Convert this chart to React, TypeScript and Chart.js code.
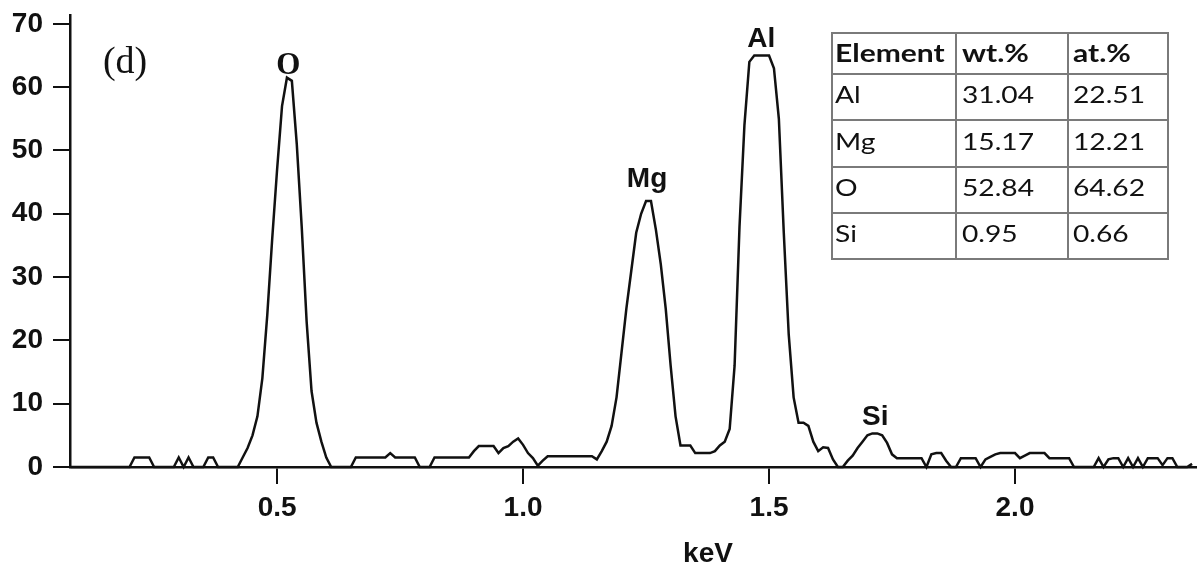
import React, { useEffect, useRef } from "react";
import Chart from "chart.js/auto";

// Channel energies (keV)
const energyKeV = [
  0.08, 0.09,
  0.10, 0.11, 0.12, 0.13, 0.14, 0.15, 0.16, 0.17, 0.18, 0.19,
  0.20, 0.21, 0.22, 0.23, 0.24, 0.25, 0.26, 0.27, 0.28, 0.29,
  0.30, 0.31, 0.32, 0.33, 0.34, 0.35, 0.36, 0.37, 0.38, 0.39,
  0.40, 0.41, 0.42, 0.43, 0.44, 0.45, 0.46, 0.47, 0.48, 0.49,
  0.50, 0.51, 0.52, 0.53, 0.54, 0.55, 0.56, 0.57, 0.58, 0.59,
  0.60, 0.61, 0.62, 0.63, 0.64, 0.65, 0.66, 0.67, 0.68, 0.69,
  0.70, 0.71, 0.72, 0.73, 0.74, 0.75, 0.76, 0.77, 0.78, 0.79,
  0.80, 0.81, 0.82, 0.83, 0.84, 0.85, 0.86, 0.87, 0.88, 0.89,
  0.90, 0.91, 0.92, 0.93, 0.94, 0.95, 0.96, 0.97, 0.98, 0.99,
  1.00, 1.01, 1.02, 1.03, 1.04, 1.05, 1.06, 1.07, 1.08, 1.09,
  1.10, 1.11, 1.12, 1.13, 1.14, 1.15, 1.16, 1.17, 1.18, 1.19,
  1.20, 1.21, 1.22, 1.23, 1.24, 1.25, 1.26, 1.27, 1.28, 1.29,
  1.30, 1.31, 1.32, 1.33, 1.34, 1.35, 1.36, 1.37, 1.38, 1.39,
  1.40, 1.41, 1.42, 1.43, 1.44, 1.45, 1.46, 1.47, 1.48, 1.49,
  1.50, 1.51, 1.52, 1.53, 1.54, 1.55, 1.56, 1.57, 1.58, 1.59,
  1.60, 1.61, 1.62, 1.63, 1.64, 1.65, 1.66, 1.67, 1.68, 1.69,
  1.70, 1.71, 1.72, 1.73, 1.74, 1.75, 1.76, 1.77, 1.78, 1.79,
  1.80, 1.81, 1.82, 1.83, 1.84, 1.85, 1.86, 1.87, 1.88, 1.89,
  1.90, 1.91, 1.92, 1.93, 1.94, 1.95, 1.96, 1.97, 1.98, 1.99,
  2.00, 2.01, 2.02, 2.03, 2.04, 2.05, 2.06, 2.07, 2.08, 2.09,
  2.10, 2.11, 2.12, 2.13, 2.14, 2.15, 2.16, 2.17, 2.18, 2.19,
  2.20, 2.21, 2.22, 2.23, 2.24, 2.25, 2.26, 2.27, 2.28, 2.29,
  2.30, 2.31, 2.32, 2.33, 2.34, 2.35, 2.36,
];

// Counts
const counts = [
  0, 0,
  0, 0, 0, 0, 0, 0, 0, 0, 0, 0,
  0, 1.5, 1.5, 1.5, 1.5, 0, 0, 0, 0, 0,
  1.5, 0, 1.5, 0, 0, 0, 1.5, 1.5, 0, 0,
  0, 0, 0, 1.5, 3, 5, 8, 14, 24, 36,
  47, 57, 61.5, 61, 51, 38, 23, 12, 7, 4,
  1.5, 0, 0, 0, 0, 0, 1.5, 1.5, 1.5, 1.5,
  1.5, 1.5, 1.5, 2.2, 1.5, 1.5, 1.5, 1.5, 1.5, 0,
  0, 0, 1.5, 1.5, 1.5, 1.5, 1.5, 1.5, 1.5, 1.5,
  2.5, 3.3, 3.3, 3.3, 3.3, 2.2, 3, 3.3, 4, 4.5,
  3.5, 2.2, 1.4, 0.2, 1, 1.7, 1.7, 1.7, 1.7, 1.7,
  1.7, 1.7, 1.7, 1.7, 1.7, 1.2, 2.5, 4, 6.5, 11,
  18, 25, 31, 37, 40, 42, 42, 37.5, 32, 25,
  16, 8, 3.4, 3.4, 3.4, 2.2, 2.2, 2.2, 2.2, 2.5,
  3.4, 4, 6, 16, 38, 54, 64, 65, 65, 65,
  65, 63, 55, 37, 21, 11, 7, 7, 6.5, 4,
  2.5, 3.1, 3, 1.2, 0, 0, 1, 1.8, 3, 4,
  5, 5.3, 5.3, 5, 3.8, 2, 1.4, 1.4, 1.4, 1.4,
  1.4, 1.4, 0, 2, 2.2, 2.2, 1, 0, 0, 1.4,
  1.4, 1.4, 1.4, 0, 1.2, 1.6, 2, 2.2, 2.2, 2.2,
  2.2, 1.4, 1.8, 2.2, 2.2, 2.2, 2.2, 1.4, 1.4, 1.4,
  1.4, 1.4, 0, 0, 0, 0, 0, 1.4, 0, 1.2,
  1.4, 1.4, 0, 1.4, 0, 1.4, 0, 1.4, 1.4, 1.4,
  0.3, 1.4, 1.4, 0, 0, 0, 0.5,
];

const xTickValues = [0.5, 1.0, 1.5, 2.0];
const yTickValues = [0, 10, 20, 30, 40, 50, 60, 70];

const peakLabels = ["O", "Mg", "Al", "Si"];
const peakLabelKeV = [0.523, 1.252, 1.484, 1.716];
const peakLabelCounts = [62.1, 44.2, 66.3, 6.6];

const panelLabel = "(d)";
const xAxisTitle = "keV";

const tableHeader = ["Element", "wt.%", "at.%"];
const tableElements = ["Al", "Mg", "O", "Si"];
const tableWt = ["31.04", "15.17", "52.84", "0.95"];
const tableAt = ["22.51", "12.21", "64.62", "0.66"];

export default function App() {
  const ref = useRef<HTMLCanvasElement>(null);

  useEffect(() => {
    if (!ref.current) return;
    const points = energyKeV.map((x, i) => ({ x, y: counts[i] }));

    const annot = {
      id: "annot",
      afterDraw(chart: any) {
        const ctx = chart.ctx;
        const xs = chart.scales.x;
        const ys = chart.scales.y;
        ctx.save();
        ctx.fillStyle = "#111";
        ctx.textAlign = "center";
        ctx.textBaseline = "alphabetic";
        // peak labels
        peakLabels.forEach((t, i) => {
          ctx.font = t === "O" ? "bold 31px 'Liberation Serif', serif" : "bold 28px 'Liberation Sans', Arial, sans-serif";
          ctx.fillText(t, xs.getPixelForValue(peakLabelKeV[i]), ys.getPixelForValue(peakLabelCounts[i]));
        });
        // panel label
        ctx.font = "38px 'Liberation Serif', 'Times New Roman', serif";
        ctx.fillText(panelLabel, xs.getPixelForValue(0.191), ys.getPixelForValue(62.3));
        // axis title
        ctx.font = "bold 28px 'Liberation Sans', Arial, sans-serif";
        ctx.fillText(xAxisTitle, xs.getPixelForValue(1.376), chart.chartArea.bottom + 95);

        // table
        const cols = [832, 956, 1068, 1168];
        const rows = [33, 74, 120, 167, 213, 259];
        ctx.fillStyle = "#fff";
        ctx.fillRect(cols[0], rows[0], cols[3] - cols[0], rows[5] - rows[0]);
        ctx.strokeStyle = "#7a7a7a";
        ctx.lineWidth = 2;
        ctx.beginPath();
        rows.forEach((r) => {
          ctx.moveTo(cols[0] - 1, r);
          ctx.lineTo(cols[3] + 1, r);
        });
        cols.forEach((c) => {
          ctx.moveTo(c, rows[0]);
          ctx.lineTo(c, rows[5]);
        });
        ctx.stroke();

        const offs = [3, 6, 5];
        const drawCell = (t: string, col: number, baseline: number, bold: boolean) => {
          ctx.save();
          ctx.font = (bold ? "bold 25px " : "23.5px ") + "Lato, 'Open Sans', sans-serif";
          ctx.fillStyle = "#111";
          ctx.textAlign = "left";
          ctx.translate(cols[col] + offs[col], baseline);
          ctx.scale(1.2, 1);
          ctx.fillText(t, 0, 0);
          ctx.restore();
        };
        tableHeader.forEach((t, c) => drawCell(t, c, 62, true));
        tableElements.forEach((el, r) => {
          const b = rows[r + 2] - 17;
          drawCell(el, 0, b, false);
          drawCell(tableWt[r], 1, b, false);
          drawCell(tableAt[r], 2, b, false);
        });
        ctx.restore();
      },
    };

    const tickFont = { family: "'Liberation Sans', Arial, sans-serif", size: 28, weight: "bold" as const };

    const chart = new Chart(ref.current, {
      type: "line",
      data: {
        datasets: [
          {
            data: points,
            borderColor: "#111",
            borderWidth: 2.5,
            pointRadius: 0,
            tension: 0,
            fill: false,
            clip: false as any,
          },
        ],
      },
      options: {
        animation: false,
        responsive: true,
        maintainAspectRatio: false,
        layout: { padding: { top: 15, right: 0, left: 0, bottom: 0 } },
        plugins: { legend: { display: false }, tooltip: { enabled: false }, title: { display: false } },
        scales: {
          x: {
            type: "linear",
            min: 0.079,
            max: 2.37,
            afterBuildTicks: (scale: any) => {
              scale.ticks = xTickValues.map((v) => ({ value: v }));
            },
            afterFit: (scale: any) => {
              scale.height = 101;
              scale.paddingLeft = 0;
              scale.paddingRight = 0;
            },
            ticks: {
              color: "#111",
              font: tickFont,
              padding: 7,
              autoSkip: false,
              maxRotation: 0,
              callback: (v: any) => Number(v).toFixed(1),
            },
            grid: { drawOnChartArea: false, drawTicks: true, tickLength: 17, color: "#111", lineWidth: 2 },
            border: { display: true, color: "#111", width: 2.5 },
          },
          y: {
            type: "linear",
            min: 0,
            max: 71.4,
            afterBuildTicks: (scale: any) => {
              scale.ticks = yTickValues.map((v) => ({ value: v }));
            },
            afterFit: (scale: any) => {
              scale.width = 70;
              scale.paddingTop = 0;
              scale.paddingBottom = 0;
            },
            ticks: {
              color: "#111",
              font: tickFont,
              padding: 10,
              autoSkip: false,
            },
            grid: { drawOnChartArea: false, drawTicks: true, tickLength: 17, color: "#111", lineWidth: 2 },
            border: { display: true, color: "#111", width: 2.5 },
          },
        },
      },
      plugins: [annot],
    });
    return () => chart.destroy();
  }, []);

  return (
    <div style={{ position: "fixed", left: 0, top: 0, width: 1197, height: 568, background: "#fff" }}>
      <canvas ref={ref} />
    </div>
  );
}
